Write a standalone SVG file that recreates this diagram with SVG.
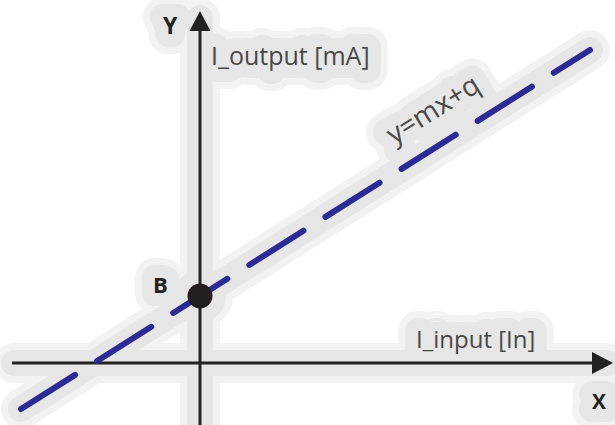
<svg xmlns="http://www.w3.org/2000/svg" width="615" height="425" viewBox="0 0 615 425">
  <style>
    .axis { stroke: #222; stroke-width: 3; fill: none; }
    .head { fill: #222; }
    .lbl { font-family: "Open Sans", "DejaVu Sans", sans-serif; fill: #484848; }
    .bold { font-family: "Open Sans", "DejaVu Sans", sans-serif; font-weight: bold; fill: #222; }
    .line { stroke: #2e2a94; stroke-width: 6; stroke-linecap: round; stroke-dasharray: 64 26; fill: none; }
    .h1 { stroke: #f2f2f2; stroke-width: 40; stroke-linecap: round; stroke-linejoin: round; fill: #f2f2f2; }
    .h2 { stroke: #e6e6e6; stroke-width: 26; stroke-linecap: round; stroke-linejoin: round; fill: #e6e6e6; }
  </style>
  <defs>
    <g id="haloShape">
      <line x1="200" y1="18" x2="200" y2="430"/>
      <line x1="14" y1="363" x2="606" y2="363"/>
      <line x1="21" y1="409" x2="590" y2="50"/>
      <circle cx="200" cy="296" r="13"/>
      <text font-family="Open Sans, sans-serif" font-weight="bold" x="153" y="293" font-size="22">B</text>
      <text font-family="Open Sans, sans-serif" font-weight="bold" x="163" y="34" font-size="23">Y</text>
      <text font-family="Open Sans, sans-serif" x="211" y="65" font-size="25">I_output [mA]</text>
      <text font-family="Open Sans, sans-serif" x="416" y="348" font-size="24">I_input [In]</text>
      <text font-family="Open Sans, sans-serif" font-weight="bold" x="592" y="409" font-size="21">X</text>
      <text font-family="Open Sans, sans-serif" font-size="28" transform="translate(394,145) rotate(-32)">y=mx+q</text>
    </g>
  </defs>
  <rect width="615" height="425" fill="#fff"/>
  <g id="halo">
    <use href="#haloShape" class="h1"/>
    <use href="#haloShape" class="h2"/>
  </g>
  <g id="connectors">
    <g id="y-axis">
      <line class="axis" x1="200" y1="28" x2="200" y2="425"/>
      <polygon class="head" points="200,11 210.5,31 189.5,31"/>
    </g>
    <g id="x-axis">
      <line class="axis" x1="12" y1="363" x2="596" y2="363"/>
      <polygon class="head" points="613,363 592,352 592,374"/>
    </g>
    <g id="line">
      <line class="line" x1="21" y1="409" x2="590" y2="50"/>
    </g>
  </g>
  <g id="point-B">
    <circle cx="200" cy="296" r="12.5" fill="#231f20"/>
    <text class="bold" x="153" y="293" font-size="22">B</text>
  </g>
  <g id="label-Y">
    <text class="bold" x="163" y="34" font-size="23">Y</text>
  </g>
  <g id="label-output">
    <text class="lbl" x="211" y="65" font-size="25">I_output [mA]</text>
  </g>
  <g id="label-input">
    <text class="lbl" x="416" y="348" font-size="24">I_input [In]</text>
  </g>
  <g id="label-X">
    <text class="bold" x="592" y="409" font-size="21">X</text>
  </g>
  <g id="label-eq">
    <text class="lbl" font-size="28" transform="translate(394,145) rotate(-32)">y=mx+q</text>
  </g>
</svg>
